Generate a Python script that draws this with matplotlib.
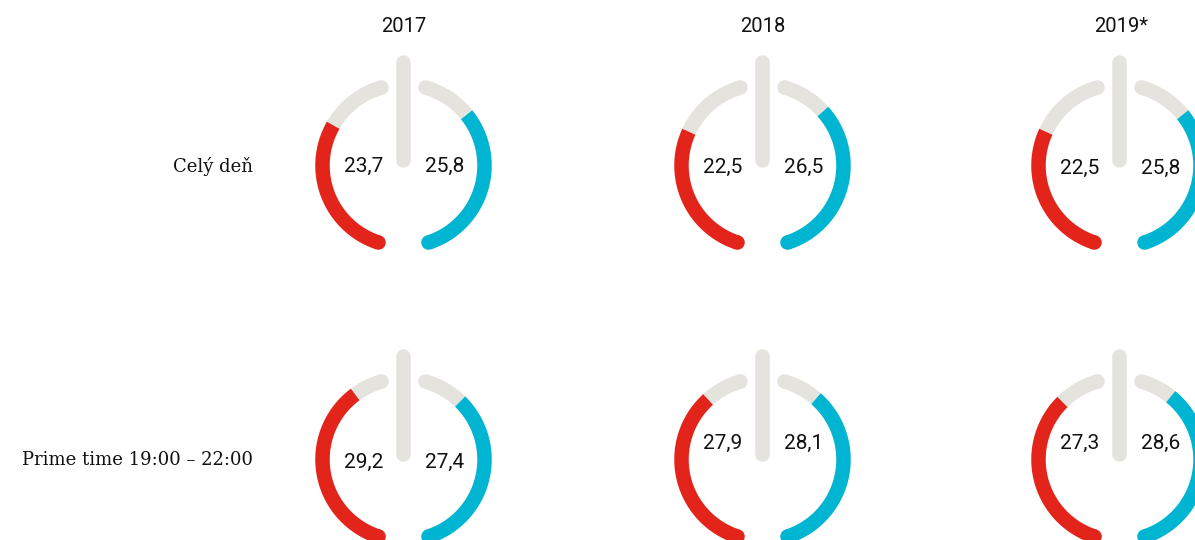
import numpy as np
import matplotlib.pyplot as plt

# data
years = ['2017', '2018', '2019*']
rows = ['Celý deň', 'Prime time 19:00 – 22:00']
red_vals = [[23.7, 22.5, 22.5], [29.2, 27.9, 27.3]]
blue_vals = [[25.8, 26.5, 25.8], [27.4, 28.1, 28.6]]

# style / layout (pixels)
W, H = 1195, 540
RED = '#e3241b'
BLUE = '#00b5d1'
GREY = '#e4e3de'
col_x = [403, 762, 1119]
year_x = [404, 763, 1121]
row_y = [165, 459]
label_dy = [[1, 2, 3], [3, -16, -16]]   # number labels vertical offset
R_ARC = 81
STROKE = 14.5
A_START, A_END, V_MAX = 18, 164, 34


def to_theta(v):
    return np.radians(A_START + v / V_MAX * (A_END - A_START))


def band(ax, t0, t1, side, color, z, caps=()):
    # filled ring segment (filled paths are not cut at the canvas edge)
    t = side * np.linspace(t0, t1, 90)
    ax.fill_between(t, R_ARC - STROKE / 2, R_ARC + STROKE / 2,
                    color=color, lw=0, zorder=z)
    for c in caps:
        ax.scatter([side * c], [R_ARC], s=(STROKE * 0.72) ** 2, color=color,
                   linewidths=0, zorder=z)


fig = plt.figure(figsize=(W / 100, H / 100), dpi=100)
bg = fig.add_axes([0, 0, 1, 1])
bg.set_xlim(0, W)
bg.set_ylim(H, 0)
bg.axis('off')

num_font = dict(family='Roboto', size=15, color='#111111')

for j, yr in enumerate(years):
    bg.text(year_x[j], 27, yr, ha='center', va='center',
            family='Roboto', size=14.5, color='#111111')

for i, lab in enumerate(rows):
    bg.text(253, row_y[i] + 1, lab, ha='right', va='center',
            family='DejaVu Serif', size=13, color='#111111')

for i in range(len(rows)):
    for j in range(len(years)):
        cx, cy = col_x[j], row_y[i]
        half = 120
        ax = fig.add_axes([(cx - half) / W, (H - cy - half) / H,
                           2 * half / W, 2 * half / H], projection='polar')
        ax.set_theta_zero_location('S')
        ax.set_theta_direction(-1)
        ax.set_ylim(0, half)
        ax.set_axis_off()

        # central bar
        ax.plot([np.pi, np.pi], [5, 103], color=GREY, lw=STROKE * 0.72,
                solid_capstyle='round', zorder=1)

        for side, v, col in [(1, red_vals[i][j], RED), (-1, blue_vals[i][j], BLUE)]:
            tv = to_theta(v)
            t0 = np.radians(A_START)
            band(ax, tv, np.radians(A_END), side, GREY, 1,
                 caps=[np.radians(A_END)])
            band(ax, t0, tv, side, col, 2, caps=[t0])

        txt = lambda v: f'{v:.1f}'.replace('.', ',')
        bg.text(cx - 20, cy + label_dy[i][j], txt(red_vals[i][j]),
                ha='right', va='center', **num_font)
        bg.text(cx + 22, cy + label_dy[i][j], txt(blue_vals[i][j]),
                ha='left', va='center', **num_font)

fig.savefig('out.png', dpi=100)
